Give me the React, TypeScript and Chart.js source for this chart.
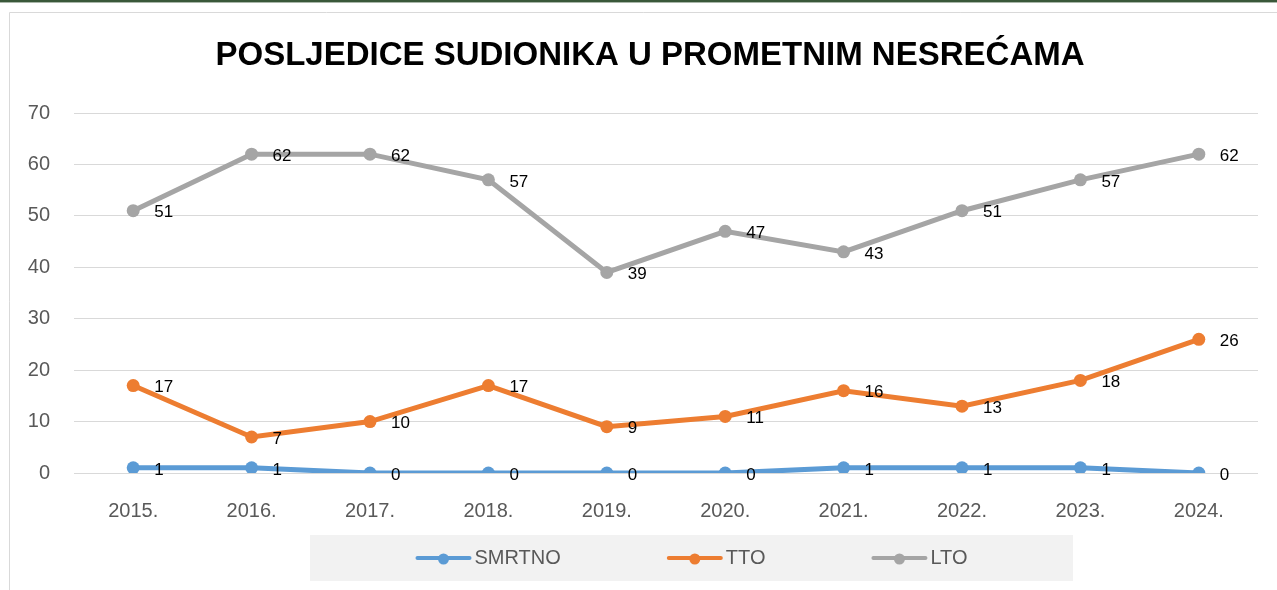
import React, { useEffect, useRef } from "react";
import { Chart, registerables } from "chart.js";

Chart.register(...registerables);

const TITLE = "POSLJEDICE SUDIONIKA U PROMETNIM NESREĆAMA";
const years = ["2015.", "2016.", "2017.", "2018.", "2019.", "2020.", "2021.", "2022.", "2023.", "2024."];
const smrtno = [1, 1, 0, 0, 0, 0, 1, 1, 1, 0];
const tto = [17, 7, 10, 17, 9, 11, 16, 13, 18, 26];
const lto = [51, 62, 62, 57, 39, 47, 43, 51, 57, 62];
const seriesNames = ["SMRTNO", "TTO", "LTO"];
const seriesColors = ["#5b9bd5", "#ed7d31", "#a5a5a5"];
const yTicks = [0, 70, 10];

const FONT = "'Liberation Sans', Arial, sans-serif";

const decorPlugin = {
  id: "decor",
  beforeDraw(chart: any) {
    const { ctx, width } = chart;
    ctx.save();
    ctx.fillStyle = "#ffffff";
    ctx.fillRect(0, 0, width, chart.height);
    ctx.fillStyle = "#3a583a";
    ctx.fillRect(0, 0, width, 2);
    ctx.fillStyle = "#a9b6a9";
    ctx.fillRect(0, 2, width, 1);
    ctx.strokeStyle = "#d9d9d9";
    ctx.lineWidth = 1;
    ctx.beginPath();
    ctx.moveTo(9.5, chart.height);
    ctx.lineTo(9.5, 12.5);
    ctx.lineTo(width, 12.5);
    ctx.stroke();
    ctx.restore();
  },
  afterDraw(chart: any) {
    const { ctx } = chart;
    ctx.save();
    ctx.font = `bold 33px ${FONT}`;
    ctx.fillStyle = "#000000";
    ctx.textAlign = "center";
    ctx.textBaseline = "middle";
    ctx.fillText(TITLE, 650, 56);
    ctx.restore();
  },
};

const labelPlugin = {
  id: "valueLabels",
  afterDatasetsDraw(chart: any) {
    const { ctx } = chart;
    ctx.save();
    ctx.font = `17px ${FONT}`;
    ctx.fillStyle = "#000000";
    ctx.textAlign = "left";
    ctx.textBaseline = "middle";
    chart.data.datasets.forEach((ds: any, i: number) => {
      const meta = chart.getDatasetMeta(i);
      meta.data.forEach((pt: any, j: number) => {
        ctx.fillText(String(ds.data[j]), pt.x + 21, pt.y + 2);
      });
    });
    ctx.restore();
  },
};

const legendPlugin = {
  id: "customLegend",
  afterDraw(chart: any) {
    const { ctx } = chart;
    const boxL = 310, boxR = 1073, boxT = 535, boxB = 581;
    ctx.save();
    ctx.fillStyle = "#f2f2f2";
    ctx.fillRect(boxL, boxT, boxR - boxL, boxB - boxT);
    ctx.font = `20px ${FONT}`;
    ctx.textBaseline = "middle";
    ctx.textAlign = "left";
    const lineW = 56, gapText = 3, gapItem = 106;
    const items = chart.data.datasets.map((ds: any) => ({
      label: ds.label,
      color: ds.borderColor,
      w: ctx.measureText(ds.label).width,
    }));
    let total = 0;
    items.forEach((it: any, i: number) => {
      total += lineW + gapText + it.w + (i < items.length - 1 ? gapItem : 0);
    });
    let x = (boxL + boxR) / 2 - total / 2;
    const cy = 558;
    items.forEach((it: any) => {
      ctx.strokeStyle = it.color;
      ctx.lineWidth = 4;
      ctx.lineCap = "round";
      ctx.beginPath();
      ctx.moveTo(x + 2, cy);
      ctx.lineTo(x + lineW - 2, cy);
      ctx.stroke();
      ctx.fillStyle = it.color;
      ctx.beginPath();
      ctx.arc(x + lineW / 2, cy + 1, 5.5, 0, Math.PI * 2);
      ctx.fill();
      ctx.fillStyle = "#595959";
      ctx.fillText(it.label, x + lineW + gapText, cy);
      x += lineW + gapText + it.w + gapItem;
    });
    ctx.restore();
  },
};

export default function App() {
  const ref = useRef<HTMLCanvasElement | null>(null);
  useEffect(() => {
    if (!ref.current) return;
    const values = [smrtno, tto, lto];
    const chart = new Chart(ref.current, {
      type: "line",
      data: {
        labels: years,
        datasets: values.map((d, i) => ({
          label: seriesNames[i],
          data: d,
          borderColor: seriesColors[i],
          backgroundColor: seriesColors[i],
          pointBackgroundColor: seriesColors[i],
          pointBorderColor: seriesColors[i],
          borderWidth: 5,
          pointRadius: 6.5,
          pointBorderWidth: 0,
          tension: 0,
          fill: false,
        })),
      },
      options: {
        responsive: false,
        animation: false,
        layout: { padding: { left: 0, right: 19, top: 113, bottom: 41 } },
        plugins: {
          legend: { display: false },
          tooltip: { enabled: false },
          title: { display: false },
        },
        scales: {
          x: {
            offset: true,
            grid: { display: false, drawTicks: false },
            border: { display: false },
            ticks: {
              color: "#595959",
              font: { family: FONT, size: 20, lineHeight: 1.2 },
              padding: 26,
              maxRotation: 0,
            },
          },
          y: {
            min: yTicks[0],
            max: yTicks[1],
            grid: { color: "#d9d9d9", lineWidth: 1, drawTicks: false },
            border: { display: false },
            ticks: {
              stepSize: yTicks[2],
              color: "#595959",
              font: { family: FONT, size: 20, lineHeight: 1.2 },
              padding: 24,
            },
            afterFit(scale: any) {
              scale.width = 74;
            },
          },
        },
      },
      plugins: [decorPlugin, labelPlugin, legendPlugin],
    });
    return () => chart.destroy();
  }, []);
  return (
    <div style={{ position: "fixed", left: 0, top: 0, width: 1277, height: 590 }}>
      <canvas ref={ref} width={1277} height={590} style={{ display: "block" }} />
    </div>
  );
}
